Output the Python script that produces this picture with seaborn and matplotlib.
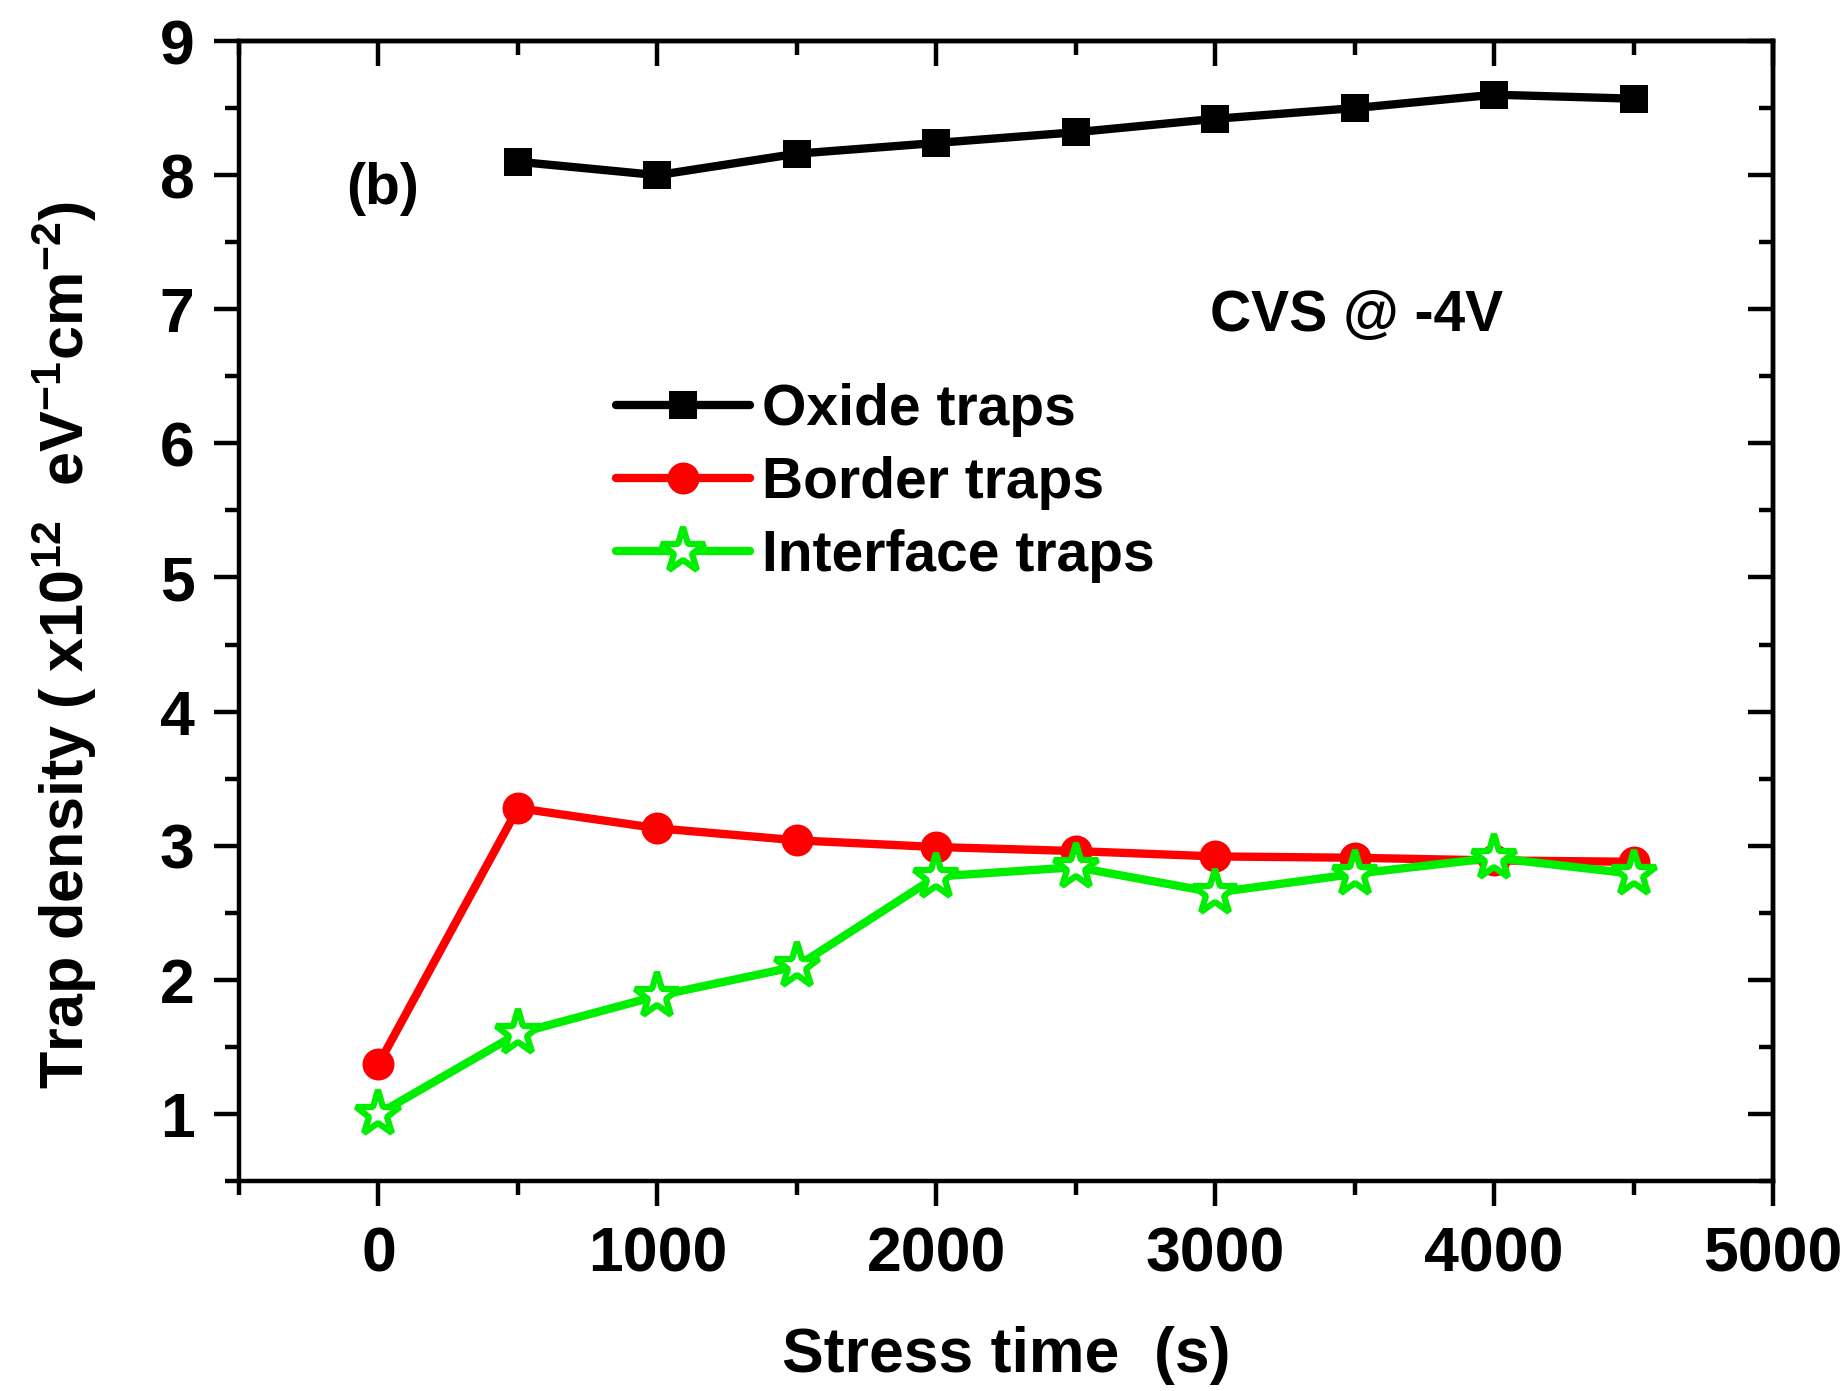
import matplotlib
matplotlib.use("Agg")
import matplotlib.pyplot as plt
import seaborn as sns
import numpy as np
import pandas as pd
from matplotlib.ticker import MultipleLocator

sns.set_theme(style="ticks")
plt.rcParams['font.family'] = ['Liberation Sans', 'DejaVu Sans']
plt.rcParams['font.weight'] = 'bold'
plt.rcParams['mathtext.fontset'] = 'custom'
plt.rcParams['mathtext.rm'] = 'Liberation Sans:bold'
plt.rcParams['mathtext.bf'] = 'Liberation Sans:bold'
plt.rcParams['mathtext.it'] = 'Liberation Sans:bold'
for k in ['text.color', 'axes.labelcolor', 'xtick.color', 'ytick.color', 'axes.edgecolor']:
    plt.rcParams[k] = 'black'

# Data
oxide_time = [500, 1000, 1500, 2000, 2500, 3000, 3500, 4000, 4500]
oxide_traps = [8.10, 8.00, 8.16, 8.24, 8.32, 8.42, 8.50, 8.60, 8.57]
border_time = [0, 500, 1000, 1500, 2000, 2500, 3000, 3500, 4000, 4500]
border_traps = [1.37, 3.28, 3.13, 3.04, 2.99, 2.96, 2.92, 2.91, 2.89, 2.88]
interface_time = [0, 500, 1000, 1500, 2000, 2500, 3000, 3500, 4000, 4500]
interface_traps = [1.00, 1.60, 1.88, 2.10, 2.77, 2.84, 2.65, 2.79, 2.91, 2.79]

fig = plt.figure(figsize=(18.47, 13.91), dpi=100)
ax = fig.add_axes([0.1294, 0.151, 0.8306, 0.8195])

lw = 6
sns.lineplot(x=oxide_time, y=oxide_traps, ax=ax, color='black', marker='s',
             markersize=20, markeredgewidth=0, label='Oxide traps')
sns.lineplot(x=border_time, y=border_traps, ax=ax, color='#ff0000', marker='o',
             markersize=23, markeredgewidth=0, label='Border traps')
sns.lineplot(x=interface_time, y=interface_traps, ax=ax, color='#00ee00', marker='*',
             markersize=34, markerfacecolor='white', markeredgecolor='#00ee00',
             markeredgewidth=4.5, label='Interface traps')
for line in ax.lines:
    line.set_linewidth(lw)

ax.set_xlim(-500, 5000)
ax.set_ylim(0.5, 9)
ax.xaxis.set_minor_locator(MultipleLocator(500))
ax.yaxis.set_minor_locator(MultipleLocator(0.5))
ax.set_xticks([0, 1000, 2000, 3000, 4000, 5000])
ax.set_yticks([1, 2, 3, 4, 5, 6, 7, 8, 9])

for s in ax.spines.values():
    s.set_linewidth(3.2)
    s.set_color('black')

ax.tick_params(which='both', direction='out', width=3.2, color='black',
               top=False, right=False)
ax.tick_params(which='major', length=18, labelsize=45, pad=14)
ax.tick_params(which='minor', length=10)

ax2 = ax.secondary_xaxis('top')
ax2.set_xticks([0, 1000, 2000, 3000, 4000, 5000])
ax2.xaxis.set_minor_locator(MultipleLocator(500))
ax2.tick_params(which='both', direction='in', width=3.2, labeltop=False)
ax2.tick_params(which='major', length=18)
ax2.tick_params(which='minor', length=10)
ax2.spines['top'].set_linewidth(3.2)
ax3 = ax.secondary_yaxis('right')
ax3.set_yticks([1, 2, 3, 4, 5, 6, 7, 8, 9])
ax3.yaxis.set_minor_locator(MultipleLocator(0.5))
ax3.tick_params(which='both', direction='in', width=3.2, labelright=False)
ax3.tick_params(which='major', length=18)
ax3.tick_params(which='minor', length=10)
ax3.spines['right'].set_linewidth(3.2)

for lab in ax.get_xticklabels() + ax.get_yticklabels():
    lab.set_fontweight('bold')

ax.set_xlabel('Stress time  (s)', fontsize=45, fontweight='bold')
ax.xaxis.set_label_coords(0.5, -0.127)
ax.set_ylabel('Trap density ( x10$^{12}$  eV$^{-1}$cm$^{-2}$)', fontsize=44,
              fontweight='bold')
ax.yaxis.set_label_coords(-0.091, 0.47)

ax.text(-115, 7.9, '(b)', fontsize=41, fontweight='bold', va='center', ha='left')
ax.text(2980, 6.95, 'CVS @ -4V', fontsize=41, fontweight='bold', va='center', ha='left')

leg = ax.legend(loc='upper left', bbox_to_anchor=(0.2275, 0.725), frameon=False,
                fontsize=41, handlelength=2.35, handletextpad=0.2, labelspacing=0.33,
                borderpad=0)
for t in leg.get_texts():
    t.set_fontweight('bold')

fig.savefig('out.png', dpi=100)
